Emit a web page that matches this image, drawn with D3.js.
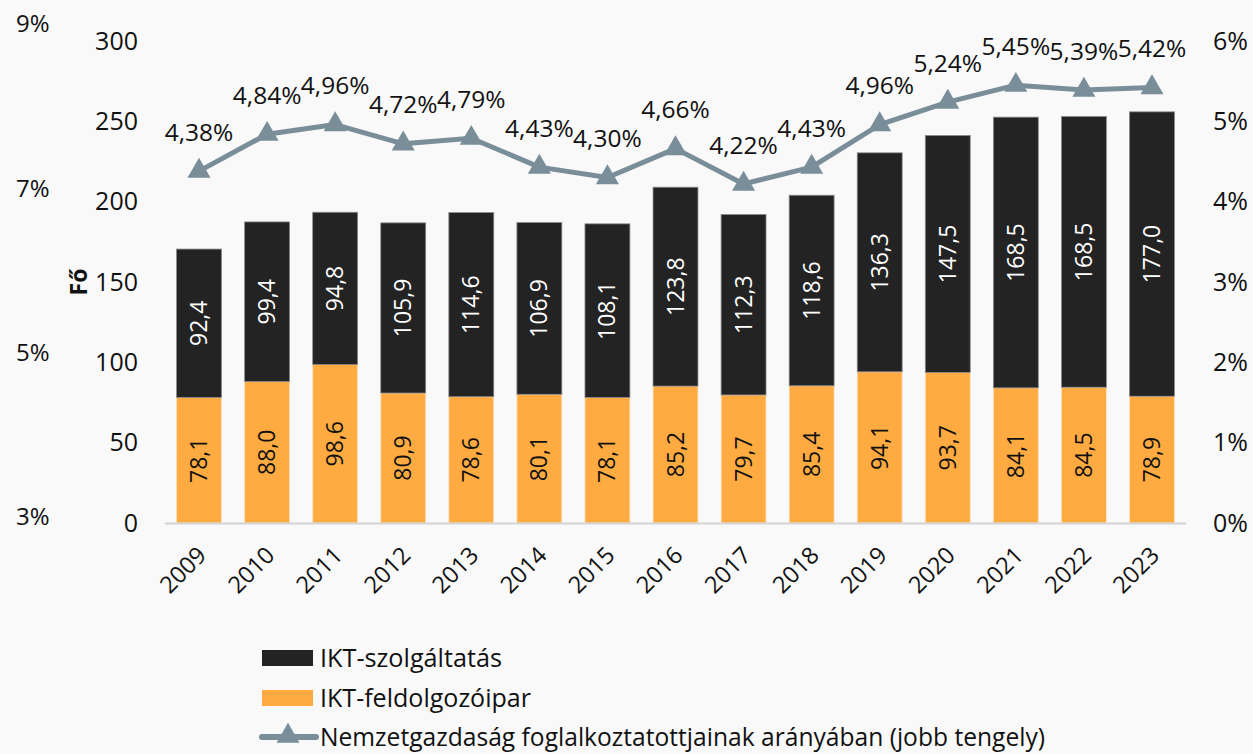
<!DOCTYPE html>
<html><head><meta charset="utf-8">
<script src="https://cdn.jsdelivr.net/npm/d3@7"></script>
<style>
body{margin:0;background:#f9f9f9;}
svg{display:block;font-family:"Open Sans",sans-serif;}
</style></head>
<body><svg id="c" width="1253" height="754"></svg>
<script>
const years = ["2009","2010","2011","2012","2013","2014","2015","2016","2017","2018","2019","2020","2021","2022","2023"];
const manufacturing = [78.1,88.0,98.6,80.9,78.6,80.1,78.1,85.2,79.7,85.4,94.1,93.7,84.1,84.5,78.9];
const services = [92.4,99.4,94.8,105.9,114.6,106.9,108.1,123.8,112.3,118.6,136.3,147.5,168.5,168.5,177.0];
const share = [4.38,4.84,4.96,4.72,4.79,4.43,4.30,4.66,4.22,4.43,4.96,5.24,5.45,5.39,5.42];
const leftTicks = [0,50,100,150,200,250,300];
const rightTicks = [0,1,2,3,4,5,6];
const ghostTicks = [3,5,7,9];
const legendLabels = ["IKT-szolgáltatás","IKT-feldolgozóipar","Nemzetgazdaság foglalkoztatottjainak arányában (jobb tengely)"];
const yLabel = "Fő";

const C_DARK="#232323", C_ORANGE="#ffab42", C_LINE="#7a8e99";
const svg=d3.select("#c");
const x=d3.scaleBand().domain(years).range([165,1186]).paddingInner(0.34).paddingOuter(0.17);
const y=d3.scaleLinear().domain([0,300]).range([523,41]);
const yr=d3.scaleLinear().domain([0,6]).range([523,41]);
const yg=d3.scaleLinear().domain([3,9]).range([517,24]);
const fmt=v=>v.toFixed(1).replace(".",",");
const fmtP=v=>v.toFixed(2).replace(".",",")+"%";

// ghost axis
svg.append("g").selectAll("text").data(ghostTicks).join("text")
 .attr("x",16).attr("y",d=>yg(d)).attr("dy","0.35em").attr("font-size",24).attr("fill","#111")
 .text(d=>d+"%");

// left axis
const la=svg.append("g").attr("transform","translate(148,0)")
 .call(d3.axisLeft(y).tickValues(leftTicks).tickSize(0).tickPadding(10).tickFormat(d=>d));
la.select(".domain").remove();
la.selectAll("text").attr("font-size",25).attr("fill","#111").attr("font-family","Open Sans");

// right axis
const ra=svg.append("g").attr("transform","translate(1203,0)")
 .call(d3.axisRight(yr).tickValues(rightTicks).tickSize(0).tickPadding(10).tickFormat(d=>d+"%"));
ra.select(".domain").remove();
ra.selectAll("text").attr("font-size",25).attr("fill","#111").attr("font-family","Open Sans");

svg.append("text").attr("transform",`translate(79,${y(150)}) rotate(-90)`).attr("text-anchor","middle")
 .attr("dy","0.35em").attr("font-size",23).attr("font-weight","bold").attr("fill","#111").text(yLabel);

// bars
const g=svg.append("g");
g.selectAll(".m").data(years).join("rect").attr("class","m")
 .attr("x",d=>x(d)).attr("width",x.bandwidth())
 .attr("y",(d,i)=>y(manufacturing[i])).attr("height",(d,i)=>y(0)-y(manufacturing[i]))
 .attr("fill",C_ORANGE).attr("stroke","#fbe3c4").attr("stroke-width",0.8);
g.selectAll(".s").data(years).join("rect").attr("class","s")
 .attr("x",d=>x(d)).attr("width",x.bandwidth())
 .attr("y",(d,i)=>y(manufacturing[i]+services[i])).attr("height",(d,i)=>y(manufacturing[i])-y(manufacturing[i]+services[i]))
 .attr("fill",C_DARK).attr("stroke","#8a8a8a").attr("stroke-width",0.8);

// bar labels
g.selectAll(".ml").data(years).join("text")
 .attr("transform",(d,i)=>`translate(${x(d)+x.bandwidth()/2},${y(manufacturing[i]/2)}) rotate(-90)`)
 .attr("text-anchor","middle").attr("dy","0.35em").attr("font-size",23).attr("fill","#111")
 .text((d,i)=>fmt(manufacturing[i]));
g.selectAll(".sl").data(years).join("text")
 .attr("transform",(d,i)=>`translate(${x(d)+x.bandwidth()/2},${y(manufacturing[i]+services[i]/2)}) rotate(-90)`)
 .attr("text-anchor","middle").attr("dy","0.35em").attr("font-size",23).attr("fill","#fff")
 .text((d,i)=>fmt(services[i]));

// baseline
svg.append("line").attr("x1",165).attr("x2",1186).attr("y1",y(0)+0.5).attr("y2",y(0)+0.5)
 .attr("stroke","#d4d4d4").attr("stroke-width",2);

// x labels
svg.append("g").selectAll("text").data(years).join("text")
 .attr("transform",d=>`translate(${x(d)+x.bandwidth()/2+3},${551}) rotate(-45)`)
 .attr("text-anchor","end").attr("dy","0.35em").attr("font-size",23.5).attr("fill","#111").text(d=>d);

// line
const cx=d=>x(d)+x.bandwidth()/2;
svg.append("path").datum(years).attr("fill","none").attr("stroke",C_LINE).attr("stroke-width",5)
 .attr("stroke-linejoin","round")
 .attr("d",d3.line().x(d=>cx(d)).y((d,i)=>yr(share[i])));
const tri=d3.symbol().type(d3.symbolTriangle).size(230);
svg.append("g").selectAll("path").data(years).join("path")
 .attr("transform",(d,i)=>`translate(${cx(d)},${yr(share[i])})`).attr("d",tri).attr("fill",C_LINE);
svg.append("g").selectAll("text").data(years).join("text")
 .attr("x",d=>cx(d)).attr("y",(d,i)=>yr(share[i])-39).attr("dy","0.35em").attr("text-anchor","middle")
 .attr("font-size",24.5).attr("fill","#111").text((d,i)=>fmtP(share[i]));

// legend
const lg=svg.append("g");
const rowY=[658,698,737];
lg.append("rect").attr("x",262).attr("y",rowY[0]-8).attr("width",51).attr("height",16).attr("fill",C_DARK);
lg.append("rect").attr("x",262).attr("y",rowY[1]-8).attr("width",51).attr("height",16).attr("fill",C_ORANGE);
lg.append("line").attr("x1",262).attr("x2",316).attr("y1",rowY[2]).attr("y2",rowY[2]).attr("stroke",C_LINE).attr("stroke-width",6).attr("stroke-linecap","round");
lg.append("path").attr("transform",`translate(288,${rowY[2]-1})`).attr("d",tri).attr("fill",C_LINE);
const lw=[182,211,725];
lg.selectAll("text").data(legendLabels).join("text")
 .attr("x",320).attr("y",(d,i)=>rowY[i]).attr("dy","0.35em").attr("font-size",25).attr("fill","#111")
 .attr("textLength",(d,i)=>lw[i]).attr("lengthAdjust","spacingAndGlyphs").text(d=>d);
</script></body></html>
